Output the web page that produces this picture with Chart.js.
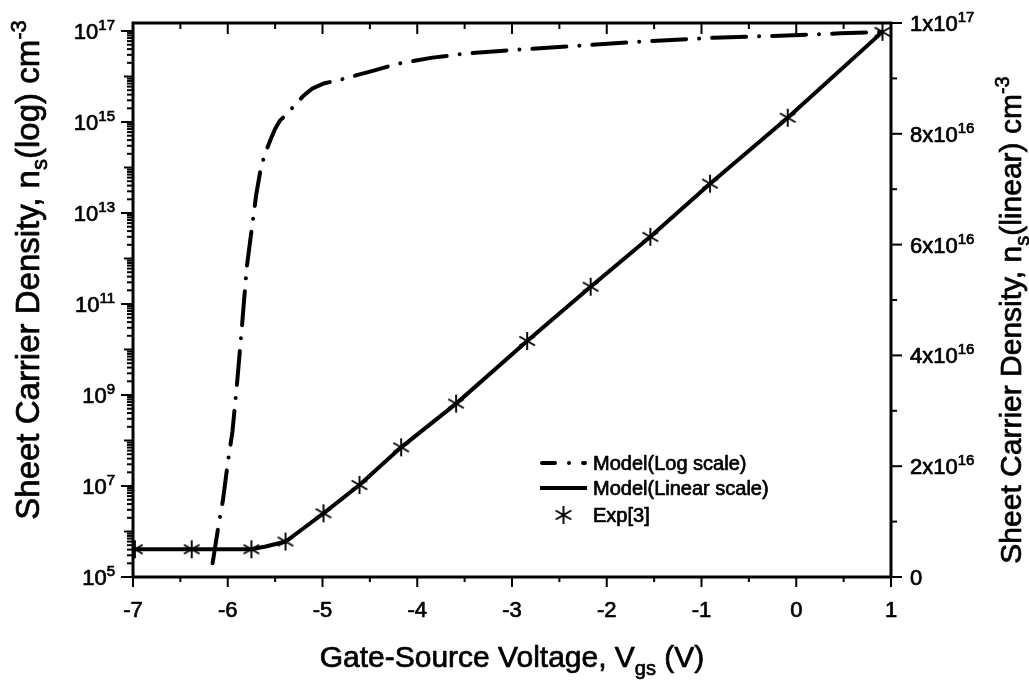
<!DOCTYPE html>
<html><head><meta charset="utf-8">
<script src="https://cdn.jsdelivr.net/npm/chart.js@4/dist/chart.umd.min.js"></script>
<style>html,body{margin:0;padding:0;background:#fff;}#wrap{width:1029px;height:681px;position:relative;}</style>
</head><body><div id="wrap"><canvas id="c"></canvas></div>
<script>
// ---- data ----
const logModelV = [-6.16, -6.10, -6.05, -6.00, -5.95, -5.90, -5.85, -5.80, -5.75, -5.70, -5.65, -5.60, -5.55, -5.50, -5.45, -5.37, -5.28, -5.20, -5.11, -4.98, -4.85, -4.46, -4.21, -3.84, -3.48, -3.09, -2.84, -2.20, -1.61, -0.87, -0.17, 0.47, 0.90];
const logModelN = [2.0e5, 1.26e6, 5.0e6, 3.2e7, 1.6e8, 2.0e9, 3.2e10, 6.3e11, 4.0e12, 2.5e13, 1.0e14, 2.2e14, 4.0e14, 7.1e14, 1.07e15, 1.55e15, 2.5e15, 3.8e15, 5.4e15, 7.1e15, 8.1e15, 1.35e16, 1.9e16, 2.6e16, 3.2e16, 3.7e16, 4.0e16, 4.9e16, 5.9e16, 7.1e16, 7.9e16, 8.9e16, 9.5e16];
const linModelV = [-7.0, -6.38, -5.75, -5.6, -5.39, -5.2, -4.99, -4.61, -4.17, -3.59, -2.84, -2.17, -1.54, -0.91, -0.09, 0.91];
const linModelN = [0.50e16, 0.50e16, 0.50e16, 0.55e16, 0.64e16, 0.88e16, 1.15e16, 1.66e16, 2.34e16, 3.13e16, 4.26e16, 5.24e16, 6.14e16, 7.10e16, 8.29e16, 9.84e16];
const expV = [-6.98, -6.38, -5.75, -5.39, -4.99, -4.61, -4.17, -3.59, -2.84, -2.17, -1.54, -0.91, -0.09, 0.91];
const expN = [0.50e16, 0.50e16, 0.50e16, 0.64e16, 1.15e16, 1.66e16, 2.34e16, 3.13e16, 4.26e16, 5.24e16, 6.14e16, 7.10e16, 8.29e16, 9.84e16];
const seriesLabels = ['Model(Log scale)', 'Model(Linear scale)', 'Exp[3]'];
const xTickValues = [-7, -6, -5, -4, -3, -2, -1, 0, 1];
const xTickLabels = ['-7', '-6', '-5', '-4', '-3', '-2', '-1', '0', '1'];
const leftTickValues = [1e5, 1e7, 1e9, 1e11, 1e13, 1e15, 1e17];
const leftTickExp = ['5', '7', '9', '11', '13', '15', '17'];
const rightTickValues = [0, 2e16, 4e16, 6e16, 8e16, 1e17];
const rightTickBase = ['0', '2x10', '4x10', '6x10', '8x10', '1x10'];
const rightTickExp = ['', '16', '16', '16', '16', '17'];
const xTitle = [['Gate-Source Voltage, V', 0], ['gs', 1], [' (V)', 0]];
const leftTitle = [['Sheet Carrier Density, n', 0], ['s', 1], ['(log) cm', 0], ['-3', 2]];
const rightTitle = [['Sheet Carrier Density, n', 0], ['s', 1], ['(linear) cm', 0], ['-3', 2]];

const FONT = "'Liberation Sans', Arial, Helvetica, sans-serif";

function makeStar() {
  const s = document.createElement('canvas'); s.width = 22; s.height = 22;
  const g = s.getContext('2d'); g.strokeStyle = '#000'; g.lineWidth = 1.9;
  const r = 9;
  for (const a of [90, 30, 150]) {
    const t = a * Math.PI / 180;
    g.beginPath(); g.moveTo(11 + r * Math.cos(t), 11 - r * Math.sin(t)); g.lineTo(11 - r * Math.cos(t), 11 + r * Math.sin(t)); g.stroke();
  }
  return s;
}
const starImg = makeStar();

function txt(c, s, x, y) {
  c.fillText(s, x, y);
  c.strokeText(s, x, y);
}

function rich(c, parts, x, y, rot, align, big, small, subDy, supDy) {
  c.save(); c.translate(x, y); if (rot) c.rotate(rot);
  const size = p => p[1] === 0 ? big : small;
  const dy = p => p[1] === 0 ? 0 : (p[1] === 1 ? subDy : supDy);
  let total = 0;
  for (const p of parts) { c.font = size(p) + 'px ' + FONT; total += c.measureText(p[0]).width; }
  let cx = align === 'center' ? -total / 2 : (align === 'right' ? -total : 0);
  c.textAlign = 'left'; c.textBaseline = 'alphabetic';
  for (const p of parts) { c.font = size(p) + 'px ' + FONT; txt(c, p[0], cx, dy(p)); cx += c.measureText(p[0]).width; }
  c.restore();
}

const axesPlugin = {
  id: 'axesDeco',
  afterDraw(chart) {
    const c = chart.ctx, a = chart.chartArea;
    const sx = chart.scales.x, sl = chart.scales.yLog, sr = chart.scales.yLin;
    c.save();
    c.strokeStyle = '#000'; c.fillStyle = '#000'; c.lineCap = 'butt';
    // frame
    c.lineWidth = 3;
    c.strokeRect(a.left, a.top, a.right - a.left, a.bottom - a.top);
    c.lineWidth = 2;
    const line = (x1, y1, x2, y2) => { c.beginPath(); c.moveTo(x1, y1); c.lineTo(x2, y2); c.stroke(); };
    // x ticks: bottom outward, top inward
    xTickValues.forEach((v, i) => {
      const px = sx.getPixelForValue(v);
      line(px, a.bottom, px, a.bottom + 10);
      line(px, a.top, px, a.top + 11);
      if (i < xTickValues.length - 1) {
        const pm = sx.getPixelForValue((v + xTickValues[i + 1]) / 2);
        line(pm, a.bottom, pm, a.bottom + 5);
        line(pm, a.top, pm, a.top + 6);
      }
    });
    // left log ticks
    const lo = Math.round(Math.log10(sl.min)), hi = Math.floor(Math.log10(sl.max));
    for (let e = lo; e <= hi; e++) {
      for (let m = 1; m <= 9; m++) {
        const v = m * Math.pow(10, e);
        if (v < sl.min || v > sl.max) continue;
        const py = sl.getPixelForValue(v);
        let len = 6;
        if (m === 1) len = ((e - lo) % 2 === 0) ? 12 : 9;
        line(a.left, py, a.left - len, py);
      }
    }
    // right linear ticks
    rightTickValues.forEach((v, i) => {
      const py = sr.getPixelForValue(v);
      line(a.right, py, a.right + 11, py);
      if (i < rightTickValues.length - 1) {
        const pm = sr.getPixelForValue((v + rightTickValues[i + 1]) / 2);
        line(a.right, pm, a.right + 6, pm);
      }
    });
    // text styling (slight stroke to match the heavier scanned text)
    c.lineWidth = 0.7; c.lineJoin = 'round';
    // x tick labels
    c.font = '22px ' + FONT; c.textAlign = 'center'; c.textBaseline = 'alphabetic';
    xTickValues.forEach((v, i) => txt(c, xTickLabels[i], sx.getPixelForValue(v), a.bottom + 40));
    // left tick labels 10^n
    c.textAlign = 'left';
    leftTickValues.forEach((v, i) => {
      const py = sl.getPixelForValue(v) + 8;
      c.font = '22px ' + FONT; const wb = c.measureText('10').width;
      c.font = '15px ' + FONT; const ws = c.measureText(leftTickExp[i]).width;
      const x0 = a.left - 18 - wb - ws;
      c.font = '22px ' + FONT; txt(c, '10', x0, py);
      c.font = '15px ' + FONT; txt(c, leftTickExp[i], x0 + wb, py - 9);
    });
    // right tick labels
    rightTickValues.forEach((v, i) => {
      const py = sr.getPixelForValue(v) + 8;
      const x0 = a.right + 19;
      c.font = '22px ' + FONT; const wb = c.measureText(rightTickBase[i]).width;
      txt(c, rightTickBase[i], x0, py);
      if (rightTickExp[i]) { c.font = '15px ' + FONT; txt(c, rightTickExp[i], x0 + wb, py - 9); }
    });
    // titles
    rich(c, xTitle, (a.left + a.right) / 2, 667, 0, 'center', 30, 20, 8, -12);
    rich(c, leftTitle, 39, 270, -Math.PI / 2, 'center', 33, 22, 8, -13);
    rich(c, rightTitle, 1021, 320, -Math.PI / 2, 'center', 30, 20, 8, -12);
    // legend
    const ds = chart.data.datasets;
    const lx = 540, lw = 47, tx = 593;
    const rows = [463, 488, 515];
    c.font = '20px ' + FONT; c.textAlign = 'left';
    ds.forEach((d, i) => txt(c, d.label, tx, rows[i] + 7));
    c.lineCap = 'round';
    c.lineWidth = ds[0].borderWidth; c.setLineDash([13, 14, 0.01, 14]);
    line(lx + 2, rows[0], lx + lw - 2, rows[0]);
    c.setLineDash([]); c.lineCap = 'butt';
    c.lineWidth = ds[1].borderWidth;
    line(lx, rows[1], lx + lw, rows[1]);
    c.drawImage(starImg, lx + lw / 2 - 11, rows[2] - 11);
    c.restore();
  }
};

const pts = (xs, ys) => xs.map((v, i) => ({ x: v, y: ys[i] }));
const hiddenAxis = { ticks: { display: false }, grid: { display: false, drawTicks: false }, border: { display: false }, title: { display: false } };

new Chart(document.getElementById('c').getContext('2d'), {
  type: 'line',
  data: {
    datasets: [
      { label: seriesLabels[0], data: pts(logModelV, logModelN), xAxisID: 'x', yAxisID: 'yLog', borderColor: '#000', borderWidth: 4, borderDash: [34, 13, 0.01, 13], borderCapStyle: 'round', pointRadius: 0, fill: false, tension: 0 },
      { label: seriesLabels[1], data: pts(linModelV, linModelN), xAxisID: 'x', yAxisID: 'yLin', borderColor: '#000', borderWidth: 4, pointRadius: 0, fill: false, tension: 0 },
      { label: seriesLabels[2], data: pts(expV, expN), xAxisID: 'x', yAxisID: 'yLin', showLine: false, pointStyle: starImg, pointRadius: 9, borderColor: '#000', backgroundColor: '#000' }
    ]
  },
  options: {
    responsive: true, maintainAspectRatio: false, animation: false, devicePixelRatio: 1,
    layout: { padding: { left: 133, right: 138, top: 23, bottom: 104 } },
    plugins: { legend: { display: false }, tooltip: { enabled: false } },
    scales: {
      x: Object.assign({ type: 'linear', position: 'bottom', min: -7, max: 1 }, hiddenAxis),
      yLog: Object.assign({ type: 'logarithmic', position: 'left', min: 1e5, max: 1.5e17 }, hiddenAxis),
      yLin: Object.assign({ type: 'linear', position: 'right', min: 0, max: 1e17 }, hiddenAxis)
    }
  },
  plugins: [axesPlugin]
});
</script></body></html>
